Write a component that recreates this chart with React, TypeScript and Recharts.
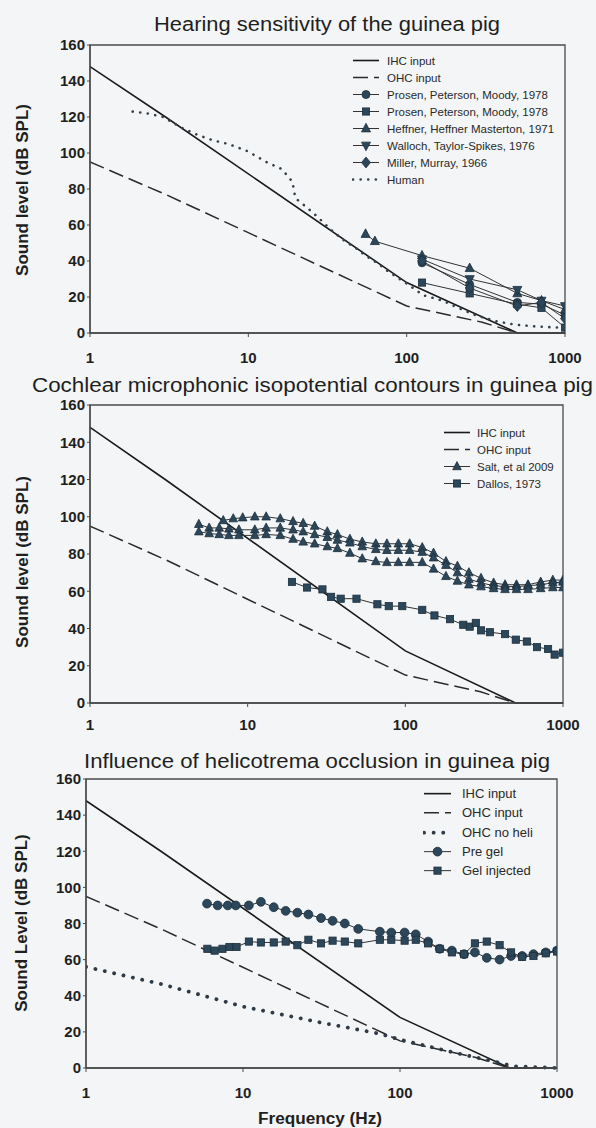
import React from 'react';
import { LineChart, Line, XAxis, YAxis, ReferenceArea, Legend } from 'recharts';

const FONT = '"Liberation Sans", Arial, Helvetica, sans-serif';
const INK = '#1f1f1f';
const AXIS = '#4a4a4a';
const MARK = '#2d475a';
const MARK_EDGE = '#1c2f3d';
const BG = '#f3f5f6';

const freqTicks = [1, 10, 100, 1000];
const levelTicks = [0, 20, 40, 60, 80, 100, 120, 140, 160];

// Model curves shared by all panels
const ihcFreq = [1, 3, 100, 500, 1000];
const ihcLevel = [148, 120, 28, 0, 0];
const ohcFreq = [1, 3, 100, 300, 500];
const ohcLevel = [95, 77, 15, 6, 0];

// Panel 1 – hearing sensitivity
const humanFreq = [1.86, 2.3, 2.9, 3.8, 4.8, 6, 7.5, 9.9, 13, 16.3, 19, 19.8, 25.5, 33.6, 40.8, 48, 55, 65, 77, 102, 127, 169, 211, 270, 368, 486, 640, 1000];
const humanLevel = [123, 122, 120, 114, 110, 107, 105, 101, 95, 91, 84, 75, 67, 57, 51, 47, 43, 39, 34, 27, 21, 18, 14, 10, 6.5, 4.6, 3.7, 2.8];
const gpFreq = [125, 250, 500, 710, 1000];
const prosenCircleLevel = [39, 27, 17, 16, 10];
const prosenSquareLevel = [28, 22, 16, 14, 3];
const heffnerFreq = [55, 63, 125, 250, 500, 710, 1000];
const heffnerLevel = [55, 51, 43, 36, 22, 18, 13];
const wallochLevel = [41, 30, 24, 18, 15];
const millerLevel = [40, 25, 15, 17, 8];

// Panel 2 – cochlear microphonic
const saltAFreq = [7, 8.1, 9.3, 11.1, 13.1, 16.1, 19.4, 22.5, 26.6, 32, 37.1, 44.5, 53.3, 65, 76.4, 90.3, 106.5, 128, 151, 181, 214, 253, 302, 363, 429, 507, 600, 722, 862, 1000];
const saltALevel = [98, 99, 99.5, 100, 100, 99, 97.5, 96.5, 95, 92, 90.5, 88, 86.5, 85.5, 85.5, 85.5, 85.5, 83.5, 80.5, 76, 73.5, 70, 67, 64.5, 63.5, 63.5, 63.5, 65, 66, 66];
const saltBCFreq = [4.9, 5.7, 6.6, 7.6, 8.8, 11.1, 13.1, 16.1, 19.4, 22.5, 26.6, 32, 37.1, 44.5, 53.3, 65, 76.4, 90.3, 106.5, 128, 151, 181, 214, 253, 302, 363, 429, 507, 600, 722, 862, 1000];
const saltBLevel = [96, 94, 94, 93.5, 93, 93, 94, 94, 93, 92, 90.5, 89, 87.5, 86, 84, 82.5, 82, 82, 82, 81, 78, 74, 70, 66.5, 64.5, 63, 62.5, 62.5, 63, 63.5, 64.5, 65];
const saltCLevel = [92, 91, 90.5, 90, 90, 90, 90.5, 90, 88, 86.5, 85.5, 84, 83, 80.5, 77.5, 76, 75.5, 75.5, 75.5, 75.5, 72, 68, 65.5, 63.5, 62.5, 61.5, 61, 61, 61, 61.5, 62, 62];
const dallosFreq = [19.1, 23.8, 29.8, 33.8, 38.9, 49, 66.5, 78.5, 95.6, 128, 153, 192, 233, 256, 280, 302, 344, 429, 502, 590, 684, 804, 885, 1000];
const dallosLevel = [65, 62, 61, 57, 56, 56, 53, 52, 52, 50, 47, 45, 42, 41, 43, 39, 38, 37, 34, 33, 30, 29, 26, 27];

// Panel 3 – helicotrema occlusion
const noHeliFreq = [1, 3, 10, 32, 74, 100, 227, 395, 520, 1000];
const noHeliLevel = [56, 46.5, 34, 25, 19, 15.7, 8.3, 3.7, 1, 0];
const preGelFreq = [5.9, 6.9, 8, 9, 10.9, 13, 15.7, 18.7, 22.2, 26.1, 31.4, 37.2, 44.5, 54.2, 74.4, 88, 107, 126, 151, 179, 214, 256, 300, 357, 431, 510, 600, 708, 848, 1000];
const preGelLevel = [91, 90, 90, 90, 90, 92, 89, 87, 86, 85, 83, 81.5, 80, 77, 75.5, 75, 75, 74, 70, 66, 65, 63, 64, 61, 60, 62, 62, 63, 64, 65];
const gelFreq = [5.93, 6.6, 7.4, 8.2, 9.1, 10.9, 13, 15.7, 18.7, 22.2, 26.1, 31.4, 37.2, 44.5, 54.2, 74.4, 88, 107, 126, 151, 179, 214, 256, 300, 357, 431, 510, 600, 708, 848, 1000];
const gelLevel = [66, 65, 66, 67, 67, 70, 69.5, 69.5, 70, 68, 71, 69, 70.5, 70, 69, 71, 71, 70.5, 71, 69, 66, 64, 63, 69, 70, 68, 64, 61.5, 62, 63.5, 64.5];

type Pt = { f: number; y: number };
const zip = (f: number[], y: number[]): Pt[] => f.map((v, i) => ({ f: v, y: y[i] }));

type Shape = 'circle' | 'square' | 'triangle' | 'triangleDown' | 'diamond';
type Spec = {
  name: string;
  data: Pt[];
  dash?: string;
  width?: number;
  color?: string;
  cap?: 'round' | 'butt';
  shape?: Shape;
  size?: number;
  legend?: boolean;
};

function Marker({ shape, cx, cy, s }: { shape: Shape; cx: number; cy: number; s: number }) {
  if (cx == null || cy == null || isNaN(cx) || isNaN(cy)) return null;
  const common = { fill: MARK, stroke: MARK_EDGE, strokeWidth: 0.8 };
  switch (shape) {
    case 'circle':
      return <circle cx={cx} cy={cy} r={s} {...common} />;
    case 'square':
      return <rect x={cx - s * 0.9} y={cy - s * 0.9} width={s * 1.8} height={s * 1.8} {...common} />;
    case 'triangle':
      return <polygon points={`${cx},${cy - s * 1.15} ${cx + s},${cy + s * 0.75} ${cx - s},${cy + s * 0.75}`} {...common} />;
    case 'triangleDown':
      return <polygon points={`${cx},${cy + s * 1.15} ${cx + s},${cy - s * 0.75} ${cx - s},${cy - s * 0.75}`} {...common} />;
    case 'diamond':
      return <polygon points={`${cx},${cy - s * 1.2} ${cx + s},${cy} ${cx},${cy + s * 1.2} ${cx - s},${cy}`} {...common} />;
  }
  return null;
}

const IHC: Spec = { name: 'IHC input', data: zip(ihcFreq, ihcLevel), width: 1.6, color: '#1a1a1a' };
const OHC: Spec = { name: 'OHC input', data: zip(ohcFreq, ohcLevel), width: 1.5, color: '#2a2a2a', dash: '15 6' };

const panel1: Spec[] = [
  IHC,
  OHC,
  { name: 'Prosen, Peterson, Moody, 1978', data: zip(gpFreq, prosenCircleLevel), shape: 'circle', size: 4 },
  { name: 'Prosen, Peterson, Moody, 1978\u200B', data: zip(gpFreq, prosenSquareLevel), shape: 'square', size: 4 },
  { name: 'Heffner, Heffner Masterton, 1971', data: zip(heffnerFreq, heffnerLevel), shape: 'triangle', size: 4.5 },
  { name: 'Walloch, Taylor-Spikes, 1976', data: zip(gpFreq, wallochLevel), shape: 'triangleDown', size: 4.5 },
  { name: 'Miller, Murray, 1966', data: zip(gpFreq, millerLevel), shape: 'diamond', size: 4.5 },
  { name: 'Human', data: zip(humanFreq, humanLevel), width: 2.6, color: '#35404c', dash: '0.1 7.5', cap: 'round' },
];

const panel2: Spec[] = [
  IHC,
  OHC,
  { name: 'Salt, et al 2009', data: zip(saltAFreq, saltALevel), shape: 'triangle', size: 4.3 },
  { name: 'Dallos, 1973', data: zip(dallosFreq, dallosLevel), shape: 'square', size: 4 },
  { name: 'Salt B', data: zip(saltBCFreq, saltBLevel), shape: 'triangle', size: 4.3, legend: false },
  { name: 'Salt C', data: zip(saltBCFreq, saltCLevel), shape: 'triangle', size: 4.3, legend: false },
];

const panel3: Spec[] = [
  IHC,
  OHC,
  { name: 'OHC no heli', data: zip(noHeliFreq, noHeliLevel), width: 3.8, color: '#2e3a46', dash: '0.1 9.5', cap: 'round' },
  { name: 'Pre gel', data: zip(preGelFreq, preGelLevel), shape: 'circle', size: 4.4 },
  { name: 'Gel injected', data: zip(gelFreq, gelLevel), shape: 'square', size: 4 },
];

type PanelProps = {
  top: number;
  height: number;
  margin: { top: number; right: number; bottom: number; left: number };
  xTickMargin: number;
  series: Spec[];
  legendTop: number;
  legendLeft: number;
  legendFont: number;
  rowH: number;
  iconW: number;
  iconGap: number;
};

function Panel(p: PanelProps) {
  const visible = p.series.filter((s) => s.legend !== false);
  const legendContent = (props: any) => {
    const payload: any[] = (props.payload || []).filter((e: any) => e.type !== 'none');
    // keep the series order of the figure (the library sorts entries by value)
    const rows = visible
      .map((s) => ({ s, e: payload.find((e: any) => e.value === s.name) }))
      .filter((r) => r.e);
    return (
      <div style={{ fontFamily: FONT, fontSize: p.legendFont, color: '#2a2a2a' }}>
        {rows.map(({ s, e }, i) => {
          const mid = p.rowH / 2;
          return (
            <div key={i} style={{ display: 'flex', alignItems: 'center', height: p.rowH, whiteSpace: 'nowrap' }}>
              <svg width={p.iconW} height={p.rowH} style={{ display: 'block' }}>
                <line
                  x1={1}
                  x2={p.iconW - 1}
                  y1={mid}
                  y2={mid}
                  stroke={s.color || '#333'}
                  strokeWidth={s.width || 1}
                  strokeDasharray={s.dash}
                  strokeLinecap={s.cap || 'butt'}
                />
                {s.shape ? <Marker shape={s.shape} cx={p.iconW / 2} cy={mid} s={s.size || 4} /> : null}
              </svg>
              <span style={{ marginLeft: p.iconGap }}>{String(e.value).replace('\u200B', '')}</span>
            </div>
          );
        })}
      </div>
    );
  };

  return (
    <div style={{ position: 'absolute', left: 0, top: p.top, width: 596, height: p.height }}>
      <LineChart width={596} height={p.height} margin={p.margin}>
        <XAxis
          dataKey="f"
          type="number"
          scale="log"
          domain={[1, 1000]}
          ticks={freqTicks}
          allowDataOverflow
          height={30}
          tickSize={4}
          tickMargin={p.xTickMargin}
          stroke={AXIS}
          axisLine={{ stroke: AXIS, strokeWidth: 1.3 }}
          tickLine={{ stroke: AXIS }}
          tick={{ fontFamily: FONT, fontSize: 15, fontWeight: 'bold', fill: INK }}
        />
        <YAxis
          type="number"
          domain={[0, 160]}
          ticks={levelTicks}
          width={50}
          tickSize={3}
          tickMargin={2}
          stroke={AXIS}
          axisLine={{ stroke: AXIS, strokeWidth: 1.3 }}
          tickLine={{ stroke: AXIS }}
          tick={{ fontFamily: FONT, fontSize: 15, fontWeight: 'bold', fill: INK }}
        />
        <ReferenceArea x1={1} x2={1000} y1={0} y2={160} fill="none" fillOpacity={0} stroke={AXIS} strokeWidth={1.3} />
        {p.series.map((s, i) => (
          <Line
            key={i}
            data={s.data}
            dataKey="y"
            name={s.name}
            type="linear"
            stroke={s.color || '#333'}
            strokeWidth={s.width || 1}
            strokeDasharray={s.dash}
            strokeLinecap={s.cap || 'butt'}
            dot={
              s.shape
                ? (d: any) => <Marker key={`m-${i}-${d.index}`} shape={s.shape as Shape} cx={d.cx} cy={d.cy} s={s.size || 4} />
                : false
            }
            activeDot={false}
            legendType={s.legend === false ? 'none' : 'line'}
            isAnimationActive={false}
          />
        ))}
        <Legend
          layout="vertical"
          align="center"
          verticalAlign="middle"
          wrapperStyle={{ top: p.legendTop, left: p.legendLeft, width: 240 }}
          content={legendContent}
        />
      </LineChart>
    </div>
  );
}

export default function App() {
  return (
    <div style={{ position: 'absolute', left: 0, top: 0, width: 596, height: 1128, background: BG, overflow: 'hidden' }}>
      <Panel
        top={0}
        height={370}
        margin={{ top: 45, right: 31, bottom: 7, left: 40 }}
        xTickMargin={15}
        series={panel1}
        legendTop={52}
        legendLeft={352}
        legendFont={11.5}
        rowH={17}
        iconW={28}
        iconGap={7}
      />
      <Panel
        top={370}
        height={370}
        margin={{ top: 35, right: 33, bottom: 7, left: 40 }}
        xTickMargin={12}
        series={panel2}
        legendTop={54}
        legendLeft={443}
        legendFont={11.5}
        rowH={17}
        iconW={28}
        iconGap={6}
      />
      <Panel
        top={740}
        height={388}
        margin={{ top: 39, right: 39, bottom: 30, left: 36 }}
        xTickMargin={15}
        series={panel3}
        legendTop={44}
        legendLeft={423}
        legendFont={13}
        rowH={19.3}
        iconW={29}
        iconGap={10}
      />
      <svg width={596} height={1128} style={{ position: 'absolute', left: 0, top: 0, pointerEvents: 'none' }}>
        <g fontFamily={FONT} fill={INK}>
          <text x={154} y={31} fontSize={20} textLength={346} lengthAdjust="spacingAndGlyphs">Hearing sensitivity of the guinea pig</text>
          <text x={32} y={392} fontSize={20} textLength={561} lengthAdjust="spacingAndGlyphs">Cochlear microphonic isopotential contours in guinea pig</text>
          <text x={84} y={768} fontSize={20} textLength={466} lengthAdjust="spacingAndGlyphs">Influence of helicotrema occlusion in guinea pig</text>
          <text x={28} y={190} fontSize={17} fontWeight="bold" textAnchor="middle" transform="rotate(-90 28 190)">Sound level (dB SPL)</text>
          <text x={28} y={562} fontSize={17} fontWeight="bold" textAnchor="middle" transform="rotate(-90 28 562)">Sound level (dB SPL)</text>
          <text x={27} y={923} fontSize={17} fontWeight="bold" textAnchor="middle" transform="rotate(-90 27 923)">Sound Level (dB SPL)</text>
          <text x={320} y={1124} fontSize={16} fontWeight="bold" textAnchor="middle" textLength={124} lengthAdjust="spacingAndGlyphs">Frequency (Hz)</text>
        </g>
      </svg>
    </div>
  );
}
